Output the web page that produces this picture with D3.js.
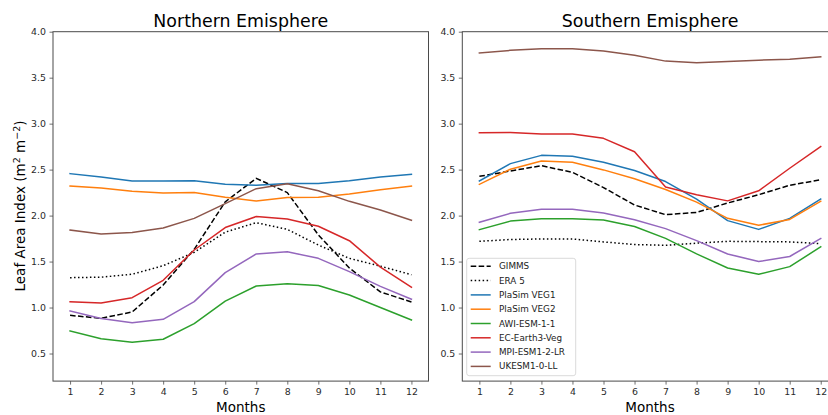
<!DOCTYPE html>
<html>
<head>
<meta charset="utf-8">
<script src="https://cdn.jsdelivr.net/npm/d3@7"></script>
<style>
  html, body { margin: 0; padding: 0; background: #fff; }
  svg { display: block; font-family: "DejaVu Sans", sans-serif; }
</style>
</head>
<body>
<svg id="chart" width="828" height="415"></svg>
<script>
// Monthly climatology of leaf area index, per dataset and hemisphere
const months = [1, 2, 3, 4, 5, 6, 7, 8, 9, 10, 11, 12];
const yTicks = [0.5, 1.0, 1.5, 2.0, 2.5, 3.0, 3.5, 4.0];
const seriesNames = ["GIMMS", "ERA 5", "PlaSim VEG1", "PlaSim VEG2", "AWI-ESM-1-1", "EC-Earth3-Veg", "MPI-ESM1-2-LR", "UKESM1-0-LL"];
const seriesColors = ["#000000", "#000000", "#1f77b4", "#ff7f0e", "#2ca02c", "#d62728", "#9467bd", "#8c564b"];
const seriesDash = ["5.55,2.4", "1.5,2.475", null, null, null, null, null, null];

// Northern hemisphere
const nhGIMMS = [0.915, 0.883, 0.952, 1.245, 1.633, 2.15, 2.405, 2.25, 1.79, 1.43, 1.17, 1.06];
const nhERA5  = [1.325, 1.33, 1.362, 1.455, 1.60, 1.82, 1.923, 1.85, 1.68, 1.535, 1.45, 1.357];
const nhVEG1  = [2.456, 2.42, 2.376, 2.375, 2.38, 2.34, 2.33, 2.35, 2.35, 2.38, 2.42, 2.45];
const nhVEG2  = [2.322, 2.30, 2.264, 2.245, 2.25, 2.20, 2.159, 2.196, 2.20, 2.235, 2.28, 2.32];
const nhAWI   = [0.745, 0.66, 0.622, 0.655, 0.825, 1.07, 1.234, 1.26, 1.24, 1.136, 1.0, 0.865];
const nhEC    = [1.064, 1.05, 1.107, 1.296, 1.626, 1.87, 1.99, 1.963, 1.884, 1.727, 1.44, 1.22];
const nhMPI   = [0.963, 0.88, 0.835, 0.872, 1.064, 1.38, 1.583, 1.607, 1.535, 1.39, 1.23, 1.09];
const nhUK    = [1.843, 1.80, 1.815, 1.866, 1.97, 2.13, 2.293, 2.347, 2.27, 2.155, 2.06, 1.95];

// Southern hemisphere
const shGIMMS = [2.427, 2.485, 2.543, 2.47, 2.305, 2.115, 2.01, 2.035, 2.137, 2.227, 2.33, 2.39];
const shERA5  = [1.72, 1.74, 1.746, 1.746, 1.714, 1.685, 1.677, 1.70, 1.72, 1.717, 1.714, 1.695];
const shVEG1  = [2.376, 2.565, 2.655, 2.645, 2.58, 2.49, 2.37, 2.18, 1.945, 1.85, 1.97, 2.18];
const shVEG2  = [2.34, 2.505, 2.594, 2.58, 2.497, 2.40, 2.284, 2.146, 1.97, 1.895, 1.958, 2.155];
const shAWI   = [1.847, 1.94, 1.966, 1.966, 1.951, 1.882, 1.752, 1.583, 1.43, 1.362, 1.445, 1.66];
const shEC    = [2.90, 2.905, 2.887, 2.887, 2.84, 2.695, 2.31, 2.227, 2.16, 2.27, 2.515, 2.75];
const shMPI   = [1.927, 2.025, 2.07, 2.07, 2.028, 1.955, 1.858, 1.728, 1.583, 1.5, 1.555, 1.75];
const shUK    = [3.768, 3.797, 3.815, 3.815, 3.79, 3.745, 3.68, 3.662, 3.677, 3.69, 3.70, 3.727];

const panels = [
  { title: "Northern Emisphere", left: 53, series: [nhGIMMS, nhERA5, nhVEG1, nhVEG2, nhAWI, nhEC, nhMPI, nhUK], legend: false },
  { title: "Southern Emisphere", left: 462.3, series: [shGIMMS, shERA5, shVEG1, shVEG2, shAWI, shEC, shMPI, shUK], legend: true }
];

const svg = d3.select("#chart");
const axW = 375.5, axTop = 31.7, axBottom = 381.1;
const axisColor = "#4a4a4a";

const y = d3.scaleLinear().domain([0.2, 4.0]).range([axBottom, axTop]);

panels.forEach(p => {
  const x = d3.scaleLinear().domain([0.45, 12.55]).range([p.left, p.left + axW]);
  const g = svg.append("g");

  // axes
  const xAxis = g.append("g")
    .attr("transform", `translate(0,${axBottom})`)
    .call(d3.axisBottom(x).tickValues(months).tickSize(3.5).tickPadding(3.5).tickFormat(d3.format("d")));
  const yAxis = g.append("g")
    .attr("transform", `translate(${p.left},0)`)
    .call(d3.axisLeft(y).tickValues(yTicks).tickSize(3.5).tickPadding(3.5).tickFormat(d3.format(".1f")));
  [xAxis, yAxis].forEach(a => {
    a.select(".domain").remove();
    a.selectAll(".tick line").attr("stroke", axisColor).attr("stroke-width", 0.8);
    a.selectAll(".tick text").attr("fill", "#2a2a2a").style("font-size", "9.4px").style("font-family", "DejaVu Sans");
  });

  // series lines
  const line = d3.line().x((d, i) => x(months[i])).y(d => y(d));
  p.series.forEach((vals, k) => {
    g.append("path")
      .datum(vals)
      .attr("d", line)
      .attr("fill", "none")
      .attr("stroke", seriesColors[k])
      .attr("stroke-width", 1.5)
      .attr("stroke-dasharray", seriesDash[k])
      .attr("stroke-linejoin", "round")
      .attr("stroke-linecap", seriesDash[k] ? "butt" : "square");
  });

  // frame
  g.append("rect")
    .attr("x", p.left).attr("y", axTop)
    .attr("width", axW).attr("height", axBottom - axTop)
    .attr("fill", "none").attr("stroke", axisColor).attr("stroke-width", 1);

  // title
  g.append("text")
    .attr("x", p.left + axW / 2).attr("y", 26.5)
    .attr("text-anchor", "middle")
    .style("font-size", "17.4px").attr("fill", "#000")
    .text(p.title);

  // x label
  g.append("text")
    .attr("x", p.left + axW / 2).attr("y", 411.5)
    .attr("text-anchor", "middle")
    .style("font-size", "13.5px").attr("fill", "#000")
    .text("Months");

  if (p.legend) {
    const lx = 466.7, ly = 258.3;
    g.append("rect")
      .attr("x", lx).attr("y", ly).attr("width", 109).attr("height", 117.4)
      .attr("rx", 2.5).attr("fill", "#fff").attr("fill-opacity", 0.8)
      .attr("stroke", "#d0d0d0").attr("stroke-width", 0.8);
    seriesNames.forEach((name, k) => {
      const yy = 266.3 + k * 14.3;
      g.append("line")
        .attr("x1", lx + 4).attr("x2", lx + 24).attr("y1", yy).attr("y2", yy)
        .attr("stroke", seriesColors[k]).attr("stroke-width", 1.5)
        .attr("stroke-dasharray", seriesDash[k]);
      g.append("text")
        .attr("x", lx + 32.3).attr("y", yy).attr("dy", "0.35em")
        .style("font-size", "8.8px").attr("fill", "#222")
        .text(name);
    });
  }
});

// y axis label with superscripts
const yl = svg.append("text")
  .attr("transform", "translate(24.5,206) rotate(-90)")
  .attr("text-anchor", "middle")
  .style("font-size", "13.5px").attr("fill", "#000");
yl.append("tspan").text("Leaf Area Index (m");
yl.append("tspan").attr("dy", -5).style("font-size", "9.5px").text("2");
yl.append("tspan").attr("dy", 5).text(" m");
yl.append("tspan").attr("dy", -5).style("font-size", "9.5px").text("\u22122");
yl.append("tspan").attr("dy", 5).text(")");
</script>
</body>
</html>
